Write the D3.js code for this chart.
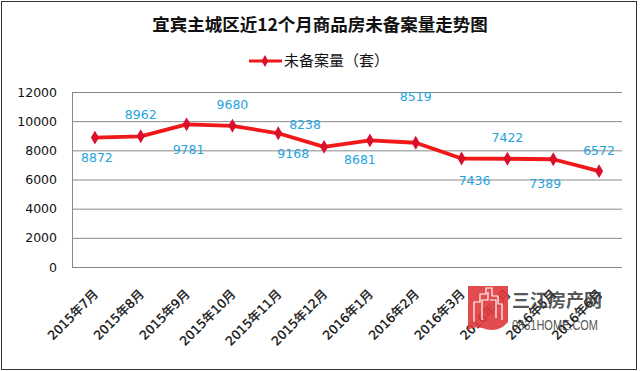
<!DOCTYPE html>
<html>
<head>
<meta charset="utf-8">
<script src="https://cdn.jsdelivr.net/npm/d3@7"></script>
<style>
  body { margin: 0; background: #fff; }
  svg { display: block; }
</style>
</head>
<body>
<div id="chart"></div>
<script>
// chart data
var months = ["2015年7月", "2015年8月", "2015年9月", "2015年10月", "2015年11月", "2015年12月",
              "2016年1月", "2016年2月", "2016年3月", "2016年4月", "2016年5月", "2016年6月"];
var unsold = [8872, 8962, 9781, 9680, 9168, 8238, 8681, 8519, 7436, 7422, 7389, 6572];
var yTicks = [0, 2000, 4000, 6000, 8000, 10000, 12000];
var seriesName = "未备案量（套）";
var title = "宜宾主城区近12个月商品房未备案量走势图";

// where each value label sits relative to its point (dx, dy)
var labelShift = [[2, 20], [0, -22], [2, 25], [0, -21], [15, 20], [-19, -22],
                  [-10, 19], [0, -46], [13, 22], [0, -21], [-8, 24], [0, -21]];

createGraph();

function createGraph() {
    var width = 640, height = 371;
    var plot = { left: 72, right: 622, top: 92, bottom: 267 };
    var red = "#f01818";
    var markerColor = "#d8102c";
    var labelColor = "#27a3dc";

    var svg = d3.select("#chart").append("svg")
        .attr("width", width)
        .attr("height", height);

    // outer frame
    svg.append("rect")
        .attr("x", 1.5).attr("y", 1.5)
        .attr("width", 635).attr("height", 368)
        .attr("fill", "#fff")
        .attr("stroke", "#333");

    var x = d3.scaleBand().domain(months).range([plot.left, plot.right]);
    var y = d3.scaleLinear().domain([0, 12000]).range([plot.bottom, plot.top]);

    // title
    svg.append("text")
        .attr("x", 320).attr("y", 31)
        .attr("text-anchor", "middle")
        .style("font", "bold 17.5px 'Noto Sans CJK SC'")
        .style("fill", "#111")
        .text(title);

    // legend
    var legend = svg.append("g").attr("transform", "translate(249,61)");
    legend.append("line")
        .attr("x1", 0).attr("x2", 33)
        .attr("stroke", red).attr("stroke-width", 3);
    legend.append("path")
        .attr("d", d3.symbol(d3.symbolDiamond, 40)())
        .attr("transform", "translate(16,0)")
        .attr("fill", markerColor);
    legend.append("text")
        .attr("x", 35).attr("dy", "0.36em")
        .style("font", "15px 'Noto Sans CJK SC'")
        .style("fill", "#111")
        .text(seriesName);

    // y axis with gridlines
    var yAxis = svg.append("g")
        .attr("transform", "translate(" + plot.left + ",0)")
        .call(d3.axisLeft(y).tickValues(yTicks)
            .tickSize(-(plot.right - plot.left))
            .tickPadding(15)
            .tickFormat(d3.format("d")));
    yAxis.select(".domain").remove();
    yAxis.selectAll(".tick line").attr("stroke", "#8a8a8a");
    yAxis.selectAll(".tick text")
        .style("font", "12.5px 'DejaVu Sans'")
        .style("fill", "#111");

    svg.append("line")
        .attr("x1", plot.left + 0.5).attr("x2", plot.left + 0.5)
        .attr("y1", plot.top).attr("y2", plot.bottom)
        .attr("stroke", "#8a8a8a");

    // x axis labels, rotated
    var xAxis = svg.append("g")
        .attr("transform", "translate(0," + plot.bottom + ")")
        .call(d3.axisBottom(x).tickSize(0));
    xAxis.select(".domain").remove();
    xAxis.selectAll(".tick text")
        .attr("x", 0).attr("y", 0).attr("dy", 0)
        .attr("text-anchor", "end")
        .attr("transform", "translate(4,28) rotate(-45)")
        .style("font", "12.5px 'DejaVu Sans', 'Noto Sans CJK SC'")
        .style("fill", "#111")
        .style("stroke", "#111")
        .style("stroke-width", 0.3);

    // line + markers
    var cx = function (d, i) { return x(months[i]) + x.bandwidth() / 2; };
    var line = d3.line()
        .x(cx)
        .y(function (d) { return y(d); });

    svg.append("path")
        .datum(unsold)
        .attr("d", line)
        .attr("fill", "none")
        .attr("stroke", red)
        .attr("stroke-width", 3.8)
        .attr("stroke-linejoin", "round");

    svg.selectAll(".marker")
        .data(unsold)
        .enter().append("path")
        .attr("class", "marker")
        .attr("d", d3.symbol(d3.symbolDiamond, 56)())
        .attr("transform", function (d, i) { return "translate(" + cx(d, i) + "," + y(d) + ")"; })
        .attr("fill", markerColor);

    svg.selectAll(".val")
        .data(unsold)
        .enter().append("text")
        .attr("class", "val")
        .attr("x", function (d, i) { return cx(d, i) + labelShift[i][0]; })
        .attr("y", function (d, i) { return y(d) + labelShift[i][1]; })
        .attr("dy", "0.36em")
        .attr("text-anchor", "middle")
        .style("font", "12.5px 'DejaVu Sans'")
        .style("fill", labelColor)
        .text(function (d) { return d; });

    // site watermark
    var wm = svg.append("g").attr("transform", "translate(468,286)");
    wm.append("path")
        .attr("d", "M0,0 H40 V36 Q30,48 14,42 Q6,40 0,44 Z")
        .attr("fill", "#e0383c")
        .attr("opacity", 0.9);
    wm.append("path")
        .attr("d", "M6,36 V16 H12 V8 H18 V2 H24 V10 H30 V18 H34 V34 M14,34 V14 H20 V6 M22,14 H28 V32")
        .attr("fill", "none")
        .attr("stroke", "#fff")
        .attr("stroke-width", 1.2);
    wm.append("text")
        .attr("x", 44).attr("y", 21)
        .style("font", "bold 18px 'Noto Sans CJK SC'")
        .style("fill", "#3a3a3a")
        .style("opacity", 0.85)
        .text("三江房产网");
    wm.append("text")
        .attr("x", 44).attr("y", 44)
        .attr("textLength", 86)
        .attr("lengthAdjust", "spacingAndGlyphs")
        .style("font", "14px 'Liberation Sans Narrow', 'Liberation Sans'")
        .style("fill", "#3a3a3a")
        .style("opacity", 0.85)
        .text("0831HOME.COM");
}
</script>
</body>
</html>
